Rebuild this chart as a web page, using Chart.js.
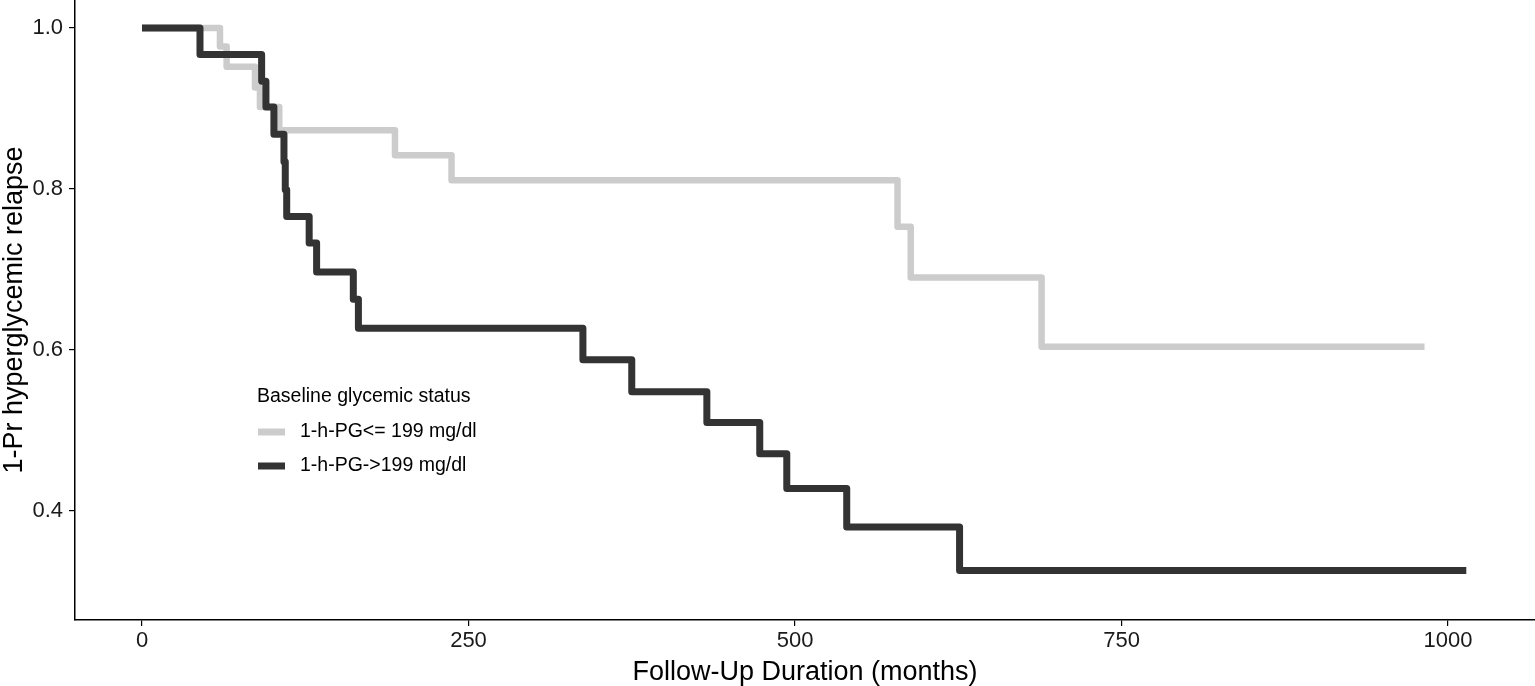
<!DOCTYPE html>
<html>
<head>
<meta charset="utf-8">
<script src="https://cdn.jsdelivr.net/npm/chart.js@4"></script>
<style>
  html, body { margin: 0; padding: 0; background: #fff; }
  #wrap { width: 1535px; height: 686px; position: relative; }
</style>
</head>
<body>
<div id="wrap"><canvas id="kmChart"></canvas></div>
<script>
// survival curve data
const lowLabel = "1-h-PG<= 199 mg/dl";
const lowTimes = [0, 59.7, 64.8, 86.5, 90.3, 105.1, 193.7, 237, 578.5, 588.6, 688.8, 982];
const lowSurv = [1.0, 0.977, 0.952, 0.926, 0.902, 0.873, 0.842, 0.811, 0.753, 0.690, 0.604, 0.604];

const highLabel = "1-h-PG->199 mg/dl";
const highTimes = [0, 44.4, 91.6, 94.9, 101, 108.7, 109.7, 110.8, 128, 133.7, 161.8, 165.7,
    337.6, 375, 432.5, 473, 493.7, 539.6, 626, 1014];
const highSurv = [1.0, 0.967, 0.934, 0.902, 0.868, 0.834, 0.799, 0.766, 0.733, 0.697, 0.663, 0.627,
    0.588, 0.548, 0.510, 0.471, 0.428, 0.380, 0.326, 0.326];

const xTicks = [0, 250, 500, 750, 1000];
const yTicks = [0.4, 0.6, 0.8, 1.0];
const legendTitle = "Baseline glycemic status";

const FONT = "'Liberation Sans', Arial, sans-serif";

function toPoints(xs, ys) {
    return xs.map(function (x, i) { return { x: x, y: ys[i] }; });
}

// no extra room for half tick labels, the panel should touch the top edge
function noPad(axis) {
    axis.paddingTop = 0;
    axis.paddingBottom = 0;
    axis.paddingLeft = 0;
    axis.paddingRight = 0;
}

// legend drawn inside the plot area, like the ggplot one
const innerLegend = {
    id: "innerLegend",
    afterDraw: function (chart) {
        const ctx = chart.ctx;
        const x0 = 257, y0 = 397;
        ctx.save();
        ctx.fillStyle = "#000";
        ctx.textBaseline = "middle";
        ctx.font = "19.5px " + FONT;
        ctx.fillText(legendTitle, x0, y0);
        chart.data.datasets.forEach(function (ds, i) {
            const yy = y0 + 35 + i * 34;
            ctx.strokeStyle = ds.borderColor;
            ctx.lineWidth = 7;
            ctx.beginPath();
            ctx.moveTo(x0 + 1, yy);
            ctx.lineTo(x0 + 28, yy);
            ctx.stroke();
            ctx.fillStyle = "#000";
            ctx.fillText(ds.label, x0 + 43, yy);
        });
        ctx.restore();
    }
};

document.addEventListener("DOMContentLoaded", function () {
    const config = {
        type: "scatter",
        data: {
            datasets: [
                {
                    label: lowLabel,
                    data: toPoints(lowTimes, lowSurv),
                    showLine: true,
                    stepped: "before",
                    borderColor: "#cccccc",
                    borderWidth: 6.5,
                    borderJoinStyle: "round",
                    pointRadius: 0,
                    order: 2,
                },
                {
                    label: highLabel,
                    data: toPoints(highTimes, highSurv),
                    showLine: true,
                    stepped: "before",
                    borderColor: "#333333",
                    borderWidth: 7,
                    borderJoinStyle: "round",
                    pointRadius: 0,
                    order: 1,
                },
            ],
        },
        options: {
            responsive: true,
            maintainAspectRatio: false,
            animation: false,
            layout: { autoPadding: false, padding: 0 },
            plugins: {
                legend: { display: false },
                tooltip: { enabled: false },
            },
            scales: {
                x: {
                    type: "linear",
                    min: -51.3,
                    max: 1066.6,
                    afterBuildTicks: function (axis) {
                        axis.ticks = xTicks.map(function (v) { return { value: v }; });
                    },
                    afterFit: function (axis) { axis.height = 66; noPad(axis); },
                    grid: { drawOnChartArea: false, drawTicks: true, tickLength: 6, color: "#000", lineWidth: 1.2 },
                    border: { display: true, color: "#000", width: 1.5 },
                    ticks: {
                        color: "#1a1a1a",
                        padding: 2,
                        callback: function (v) { return String(v); },
                        font: { family: FONT, size: 22 },
                    },
                    title: {
                        display: true,
                        text: "Follow-Up Duration (months)",
                        color: "#000",
                        padding: { top: 0, bottom: 0 },
                        font: { family: FONT, size: 27, lineHeight: 1.0 },
                    },
                },
                y: {
                    type: "linear",
                    min: 0.2646,
                    max: 1.0348,
                    afterBuildTicks: function (axis) {
                        axis.ticks = yTicks.map(function (v) { return { value: v }; });
                    },
                    afterFit: function (axis) { axis.width = 75; noPad(axis); },
                    grid: { drawOnChartArea: false, drawTicks: true, tickLength: 6, color: "#000", lineWidth: 1.2 },
                    border: { display: true, color: "#000", width: 1.5 },
                    ticks: {
                        color: "#1a1a1a",
                        padding: 6,
                        callback: function (v) { return v.toFixed(1); },
                        font: { family: FONT, size: 22 },
                    },
                    title: {
                        display: true,
                        text: "1-Pr hyperglycemic relapse",
                        color: "#000",
                        padding: { top: 1, bottom: 0 },
                        font: { family: FONT, size: 27, lineHeight: 1.0 },
                    },
                },
            },
        },
        plugins: [innerLegend],
    };

    new Chart(document.getElementById("kmChart"), config);
});
</script>
</body>
</html>
